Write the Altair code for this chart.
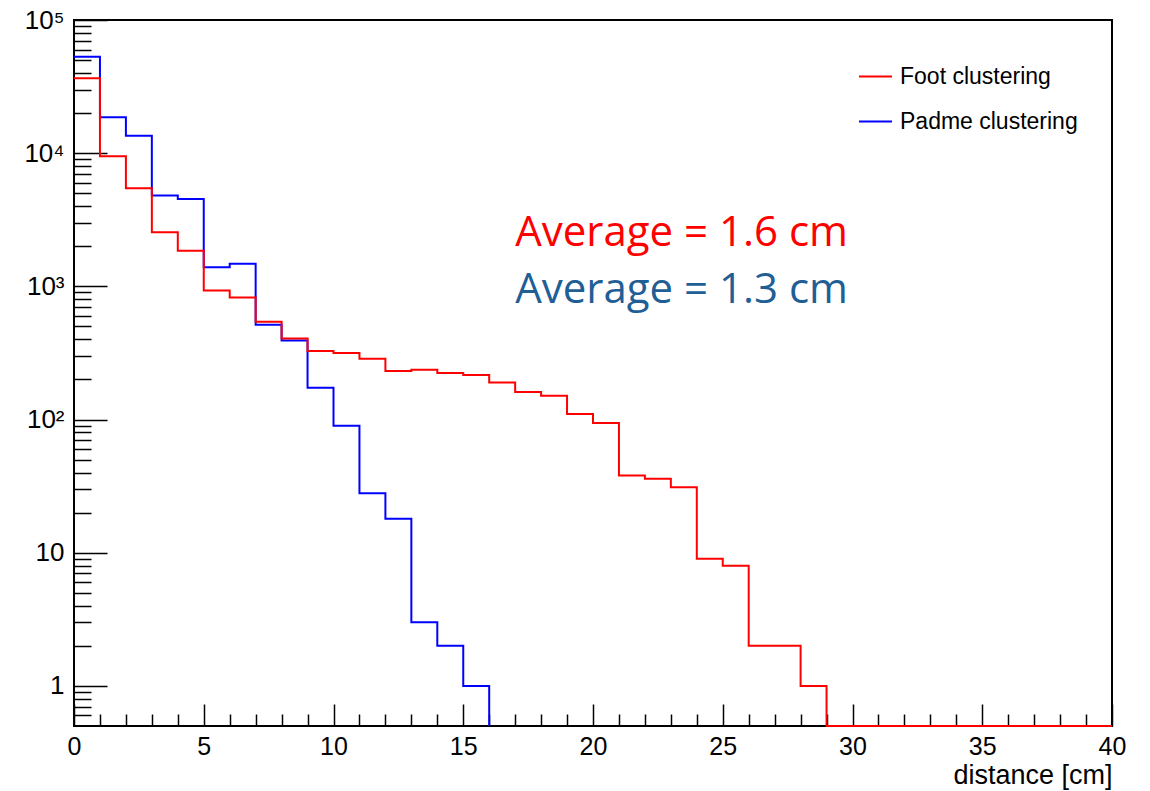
import altair as alt
import pandas as pd

# ---------------- data ----------------
series_names = ["Foot clustering", "Padme clustering"]
series_colors = ["#ff0000", "#0000ff"]

# 1 cm bins starting at 0
foot_counts = [36500, 9500, 5460, 2550, 1850, 930, 826, 542, 406, 327,
               316, 286, 231, 237, 224, 216, 190, 161, 151, 110,
               94, 38, 36, 31, 9, 8, 2, 2, 1, 0,
               0, 0, 0, 0, 0, 0, 0, 0, 0, 0]
padme_counts = [53000, 18600, 13500, 4810, 4520, 1390, 1480, 515, 393, 173,
                90, 28, 18, 3, 2, 1]

x_major = [0, 5, 10, 15, 20, 25, 30, 35, 40]
x_minor = [v for v in range(0, 41) if v % 5]
y_major = [1, 10, 100, 1000, 10000, 100000]
y_minor = [m * 10 ** e for e in range(-1, 5) for m in range(2, 10)
           if 0.5 < m * 10 ** e < 1e5]

ann_texts = ["Average = 1.6 cm", "Average = 1.3 cm"]
ann_x = [17, 17]
ann_y = [2000, 750]
ann_colors = ["#ff0000", "#1f5f96"]

X_DOMAIN = [0, 40]
Y_DOMAIN = [0.5, 100000]
W, H = 1038, 706
FONT = "Liberation Sans"

# ---------------- build step table ----------------
rows = []
for name, counts in [("Padme clustering", padme_counts), ("Foot clustering", foot_counts)]:
    for i, c in enumerate(counts):
        rows.append({"series": name, "x": float(i), "count": max(c, Y_DOMAIN[0])})
    rows.append({"series": name, "x": float(len(counts)), "count": Y_DOMAIN[0]})
df = pd.DataFrame(rows)

x_scale = alt.Scale(domain=X_DOMAIN, nice=False, zero=False)
y_scale = alt.Scale(type="log", domain=Y_DOMAIN, nice=False)

label_expr = ("datum.value == 100000 ? '10\u2075' : datum.value == 10000 ? '10\u2074' : "
              "datum.value == 1000 ? '10\u00b3' : datum.value == 100 ? '10\u00b2' : "
              "datum.value == 10 ? '10' : '1'")

lines = alt.Chart(df).mark_line(interpolate="step-after", strokeWidth=2).encode(
    x=alt.X("x:Q", scale=x_scale,
            axis=alt.Axis(orient="bottom", values=x_major, ticks=False, tickSize=0,
                          domain=False, grid=False, labelFontSize=25, labelPadding=8,
                          labelFlush=False, labelOverlap=False,
                          title="distance [cm]", titleAnchor="end", titleFontSize=27,
                          titleFontWeight="normal", titlePadding=3)),
    y=alt.Y("count:Q", scale=y_scale,
            axis=alt.Axis(orient="left", values=y_major, labelExpr=label_expr,
                          ticks=False, tickSize=0, domain=False, grid=False,
                          labelFontSize=26, labelPadding=10, labelOverlap=False,
                          title=None)),
    color=alt.Color("series:N",
                    scale=alt.Scale(domain=series_names, range=series_colors),
                    legend=alt.Legend(title=None, orient="none", legendX=784, legendY=39,
                                      symbolType="stroke", symbolSize=1089,
                                      symbolStrokeWidth=2, labelFontSize=23,
                                      labelFont=FONT, labelOffset=7, rowPadding=15,
                                      labelLimit=400, padding=0)),
    detail="series:N",
)

major_ticks = alt.Chart(df).mark_point(opacity=0).encode(
    x=alt.X("x:Q", axis=alt.Axis(orient="top", offset=-H, values=x_major, labels=False,
                                 domain=False, grid=False, tickSize=22, tickWidth=1.5,
                                 tickColor="black", title=None)),
    y=alt.Y("count:Q", axis=alt.Axis(orient="right", offset=-W, values=y_major, labels=False,
                                     domain=False, grid=False, tickSize=33, tickWidth=1.5,
                                     tickColor="black", title=None)),
)

minor_ticks = alt.Chart(df).mark_point(opacity=0).encode(
    x=alt.X("x:Q", axis=alt.Axis(orient="top", offset=-H, values=x_minor, labels=False,
                                 domain=False, grid=False, tickSize=12, tickWidth=1.5,
                                 tickColor="black", title=None)),
    y=alt.Y("count:Q", axis=alt.Axis(orient="right", offset=-W, values=y_minor, labels=False,
                                     domain=False, grid=False, tickSize=17, tickWidth=1.5,
                                     tickColor="black", title=None)),
)

texts = []
for t, xv, yv, c in zip(ann_texts, ann_x, ann_y, ann_colors):
    tdf = pd.DataFrame({"x": [xv], "count": [yv], "label": [t]})
    texts.append(
        alt.Chart(tdf).mark_text(align="left", baseline="alphabetic", font="Open Sans",
                                 fontSize=42, color=c).encode(
            x=alt.X("x:Q", axis=None),
            y=alt.Y("count:Q", axis=None),
            text="label:N",
        )
    )

chart = alt.layer(lines, major_ticks, minor_ticks, *texts).resolve_axis(
    x="independent", y="independent"
).properties(
    width=W, height=H, autosize="none",
    padding={"left": 74, "top": 20, "right": 38, "bottom": 65},
    background="white",
).configure_view(
    stroke="black", strokeWidth=2
).configure_axis(
    labelFont=FONT, titleFont=FONT, labelColor="black", titleColor="black"
)

chart.save("out.html", embed_options={"renderer": "svg", "actions": False})
